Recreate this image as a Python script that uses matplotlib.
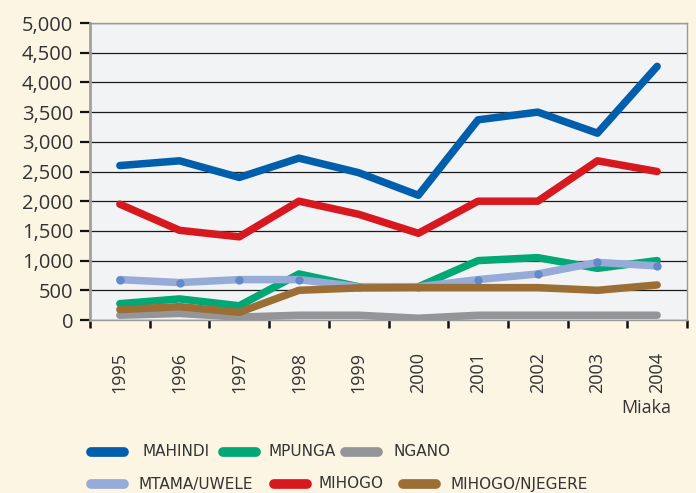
import numpy as np
import matplotlib
matplotlib.use("Agg")
import matplotlib.pyplot as plt
from matplotlib.lines import Line2D

plt.rcParams['font.family'] = ['Open Sans', 'DejaVu Sans']

years = ['1995', '1996', '1997', '1998', '1999', '2000', '2001', '2002', '2003', '2004']
mahindi = [2600, 2680, 2400, 2725, 2480, 2100, 3370, 3500, 3145, 4270]
mpunga = [275, 355, 240, 775, 560, 560, 1000, 1050, 870, 1000]
ngano = [80, 110, 50, 80, 80, 30, 80, 80, 80, 80]
mtama = [680, 630, 680, 680, 560, 560, 680, 775, 970, 910]
mihogo = [1950, 1510, 1400, 2000, 1780, 1460, 2000, 2000, 2680, 2500]
njegere = [175, 225, 130, 500, 540, 545, 545, 545, 500, 590]
yticks = [0, 500, 1000, 1500, 2000, 2500, 3000, 3500, 4000, 4500, 5000]

c_mahindi = '#005eac'
c_mpunga = '#00a876'
c_ngano = '#939598'
c_mtama = '#96abd8'
c_mihogo = '#d7191f'
c_njegere = '#9b6e35'

W, H = 696, 493
fig = plt.figure(figsize=(W / 100, H / 100), dpi=100, facecolor='#fdf5e4')
ax = fig.add_axes([90 / W, 1 - 320 / H, (687 - 90) / W, (320 - 23) / H])
ax.set_facecolor('#f2f3f5')

x = np.arange(len(years))
lw = 5.4
kw = dict(lw=lw, solid_capstyle='round', solid_joinstyle='round')
ax.plot(x, mtama, color=c_mtama, zorder=3, **kw)
ax.plot(x, mtama, 'o', color='#5f87c8', ms=5, zorder=3.1, alpha=0.9)
ax.plot(x, ngano, color=c_ngano, zorder=4, **kw)
ax.plot(x, mpunga, color=c_mpunga, zorder=2.9, **kw)
ax.plot(x, njegere, color=c_njegere, zorder=5, **kw)
ax.plot(x, mihogo, color=c_mihogo, zorder=6, **kw)
ax.plot(x, mahindi, color=c_mahindi, zorder=7, **kw)

ax.set_xlim(-0.5, len(years) - 0.5)
ax.set_ylim(0, 5000)
ax.set_yticks(yticks)
ax.set_yticklabels([f'{v:,}' for v in yticks], fontsize=14.5, color='#333333')
ax.yaxis.grid(True, color='#1a1a1a', lw=0.9)
ax.set_axisbelow(True)
ax.tick_params(axis='y', length=7, width=1.6, color='#111111', pad=5)

ax.set_xticks(np.arange(len(years) + 1) - 0.5)
ax.set_xticklabels([])
ax.tick_params(axis='x', which='major', length=6, width=1.8, color='#111111')
ax.set_xticks(x, minor=True)
ax.set_xticklabels(years, minor=True, rotation=90, fontsize=13, color='#333333')
ax.tick_params(axis='x', which='minor', length=0, pad=23)

for s in ['top', 'right', 'bottom']:
    ax.spines[s].set_color('#9a9a9a')
    ax.spines[s].set_linewidth(1.0)
ax.spines['left'].set_color('#a0a0a0')
ax.spines['left'].set_linewidth(2.0)

fig.text(671 / W, 1 - 408 / H, 'Miaka', ha='right', va='center', fontsize=13, color='#333333')

# legend entries (two rows, hand placed)
legend = [
    ('MAHINDI', c_mahindi, 87, 128, 143, 452),
    ('MPUNGA', c_mpunga, 219, 260, 269, 452),
    ('NGANO', c_ngano, 341, 382, 393, 452),
    ('MTAMA/UWELE', c_mtama, 87, 128, 138, 484),
    ('MIHOGO', c_mihogo, 270, 311, 318, 484),
    ('MIHOGO/NJEGERE', c_njegere, 399, 440, 450, 484),
]
for name, col, x0, x1, xt, yy in legend:
    fig.add_artist(Line2D([(x0 + 4) / W, (x1 - 4) / W], [1 - yy / H, 1 - yy / H],
                          color=col, lw=7, solid_capstyle='round', transform=fig.transFigure))
    fig.text(xt / W, 1 - yy / H, name, ha='left', va='center', fontsize=11,
             color='#333333', family=['Liberation Sans Narrow', 'DejaVu Sans'])

fig.savefig('out.png', dpi=100, facecolor=fig.get_facecolor())
